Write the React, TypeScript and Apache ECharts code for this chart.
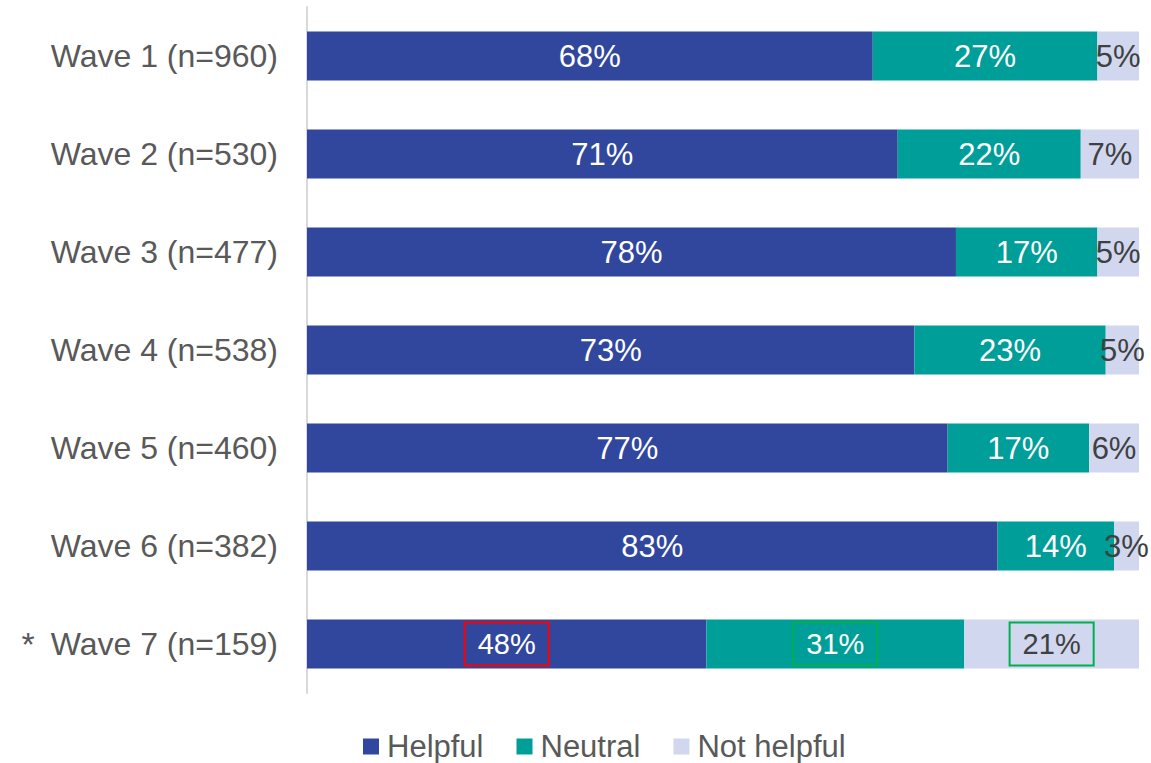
import React, { useEffect, useRef } from "react";
import * as echarts from "echarts";

const categories = [
  "Wave 1 (n=960)",
  "Wave 2 (n=530)",
  "Wave 3 (n=477)",
  "Wave 4 (n=538)",
  "Wave 5 (n=460)",
  "Wave 6 (n=382)",
  "Wave 7 (n=159)",
];
const flagged = [false, false, false, false, false, false, true];
const helpful = [68, 71, 78, 73, 77, 83, 48];
const neutral = [27, 22, 17, 23, 17, 14, 31];
const notHelpful = [5, 7, 5, 5, 6, 3, 21];
const seriesNames = ["Helpful", "Neutral", "Not helpful"];
const colors = ["#31479E", "#009E98", "#D0D7EF"];
const highlightBorder = ["#FF0000", "#00B050", "#00B050"];

export default function App() {
  const ref = useRef<HTMLDivElement>(null);
  useEffect(() => {
    if (!ref.current) return;
    const chart = echarts.init(ref.current, null, { renderer: "svg" });
    const font = "Arial, 'Liberation Sans', sans-serif";
    const all = [helpful, neutral, notHelpful];
    const series = all.map((vals, si) => ({
      name: seriesNames[si],
      type: "bar",
      stack: "total",
      barWidth: "50%",
      itemStyle: { color: colors[si] },
      label: {
        show: true,
        position: "inside",
        formatter: "{c}%",
        color: si === 2 ? "#404040" : "#FFFFFF",
        fontSize: 31,
        fontFamily: font,
      },
      data: vals.map((v, i) =>
        flagged[i]
          ? {
              value: v,
              label: {
                fontSize: 29,
                borderColor: highlightBorder[si],
                borderWidth: 2,
                padding: [8, 13, 6, 13],
              },
            }
          : v
      ),
    }));
    chart.setOption({
      animation: false,
      grid: { left: 307, right: 12, top: 7, bottom: 70 },
      legend: {
        top: 726,
        left: 358,
        itemWidth: 16,
        itemHeight: 16,
        itemGap: 33,
        icon: "rect",
        textStyle: { fontSize: 31, color: "#595959", fontFamily: font, padding: [0, 0, 0, 3] },
        data: seriesNames,
      },
      xAxis: {
        type: "value",
        min: 0,
        max: 100,
        show: false,
      },
      yAxis: {
        type: "category",
        inverse: true,
        data: categories,
        axisLine: { show: true, lineStyle: { color: "#D9D9D9", width: 2 } },
        axisTick: { show: false },
        axisLabel: {
          margin: 29,
          fontSize: 32,
          color: "#595959",
          fontFamily: font,
          formatter: (val: string, idx: number) =>
            flagged[idx] ? "{ast|*}{w|" + val + "}" : val,
          rich: {
            ast: { fontSize: 34, color: "#595959", fontFamily: font, padding: [0, 16, 0, 0] },
            w: { fontSize: 32, color: "#595959", fontFamily: font },
          },
        },
      },
      series,
    });
    return () => chart.dispose();
  }, []);
  return (
    <div
      ref={ref}
      style={{ position: "absolute", left: 0, top: 0, width: 1151, height: 763 }}
    />
  );
}
